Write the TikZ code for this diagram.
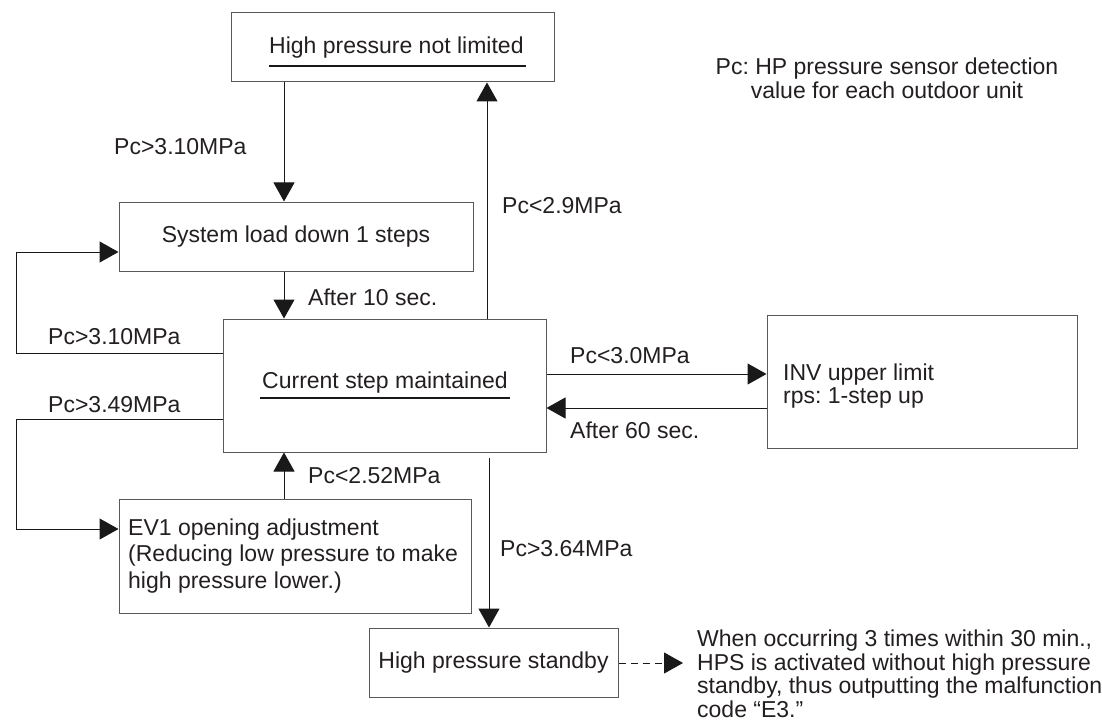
\documentclass[tikz,border=0pt]{standalone}
\usepackage{fontspec}
\setmainfont{Liberation Sans}
\usetikzlibrary{arrows.meta}
\definecolor{txt}{HTML}{231F20}
\frenchspacing
\begin{document}
\begin{tikzpicture}[x=1pt,y=-1pt,
  font=\fontsize{23}{24}\selectfont\frenchspacing, text=txt,
  box/.style={draw=black!65, line width=1pt, rectangle, inner sep=0pt},
  lbl/.style={anchor=base west, inner sep=0pt},
  arr/.style={draw=black!90, line width=1pt, -{Triangle[length=19pt,width=21pt]}},
  ln/.style={draw=black!90, line width=1pt}]
\useasboundingbox (0,0) rectangle (1102,722);

% boxes
\node[box, minimum width=323pt, minimum height=69pt] (A) at (392.5,47.5) {};
\node[anchor=base west, inner sep=0pt] (At) at (269,54) {High pressure not limited};
\draw[ln, line width=2pt] (269,66) -- (526,66);

\node[box, minimum width=354pt, minimum height=69pt] (B) at (296,236.5) {System load down 1 steps};

\node[box, minimum width=323pt, minimum height=133pt] (C) at (384.5,385.5) {};
\node[anchor=base west, inner sep=0pt] (Ct) at (262,388) {Current step maintained};
\draw[ln, line width=2pt] (260,398) -- (510,398);

\node[box, minimum width=310pt, minimum height=133pt] (I) at (922,381.5) {};
\node[anchor=west, align=left, inner sep=0pt, font=\fontsize{23}{23.5}\selectfont] (It) at (783,386) {INV upper limit\\rps: 1-step up};

\node[box, minimum width=352pt, minimum height=114pt] (D) at (295,556) {};
\node[anchor=west, align=left, inner sep=0pt, font=\fontsize{23}{26.5}\selectfont] (Dt) at (128,556) {EV1 opening adjustment\\(Reducing low pressure to make\\high pressure lower.)};

\node[box, minimum width=249pt, minimum height=69pt] (E) at (493.5,662.5) {High pressure standby};

\node[anchor=west, align=left, inner sep=0pt, font=\fontsize{23}{23.5}\selectfont] (N) at (697,674) {When occurring 3 times within 30 min.,\\HPS is activated without high pressure\\standby, thus outputting the malfunction\\code “E3.”};

\node[align=center, inner sep=0pt] (P) at (887,78) {Pc: HP pressure sensor detection\\value for each outdoor unit};

% helper coordinates
\coordinate (xl) at (284,0);
\coordinate (xr) at (487,0);
\coordinate (xd) at (489,0);
\coordinate (l1a) at (16,353);
\coordinate (l1b) at (16,252);
\coordinate (l2a) at (16,419);
\coordinate (l2b) at (16,529);
\coordinate (ya) at (0,374);
\coordinate (yb) at (0,408);
\coordinate (ye) at (0,663);
\coordinate (ne) at (683,663);

% connectors
\draw[arr] (A.south -| xl) -- (B.north -| xl);
\draw[arr] (B.south -| xl) -- (C.north -| xl);
\draw[arr] (C.north -| xr) -- (A.south -| xr);
\draw[arr] (C.west |- l1a) -- (l1a) -- (l1b) -- (B.west |- l1b);
\draw[arr] (C.west |- l2a) -- (l2a) -- (l2b) -- (D.west |- l2b);
\draw[arr] (D.north -| xl) -- (C.south -| xl);
\draw[arr, shorten <=5pt] (C.south -| xd) -- (E.north -| xd);
\draw[arr] (C.east |- ya) -- (I.west |- ya);
\draw[arr] (I.west |- yb) -- (C.east |- yb);
\draw[arr, dash pattern=on 7pt off 5pt] (E.east |- ye) -- (ne);

% labels
\node[lbl] (L1) at (114,155) {Pc>3.10MPa};
\node[lbl] (L2) at (502,213) {Pc<2.9MPa};
\node[lbl] (L3) at (308,305) {After 10 sec.};
\node[lbl] (L4) at (48,344) {Pc>3.10MPa};
\node[lbl] (L5) at (48,412) {Pc>3.49MPa};
\node[lbl] (L6) at (570,363) {Pc<3.0MPa};
\node[lbl] (L7) at (570,438) {After 60 sec.};
\node[lbl] (L8) at (308,483) {Pc<2.52MPa};
\node[lbl] (L9) at (500,556) {Pc>3.64MPa};
\end{tikzpicture}
\end{document}
